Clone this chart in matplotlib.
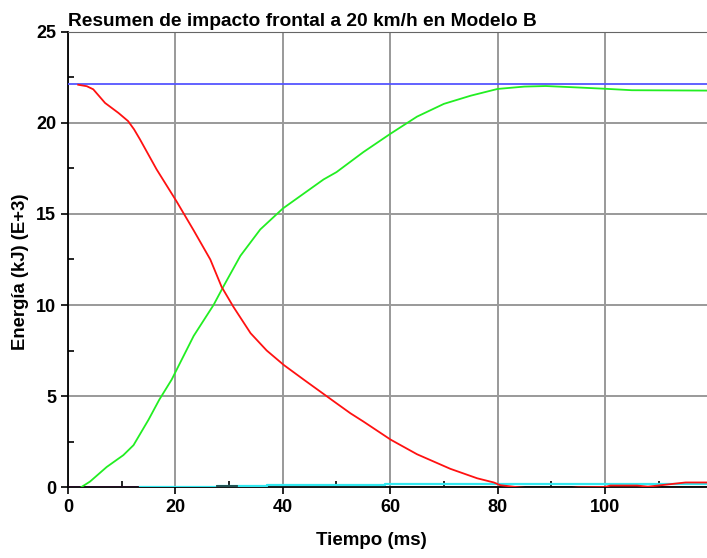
import numpy as np
import matplotlib
matplotlib.use('Agg')
import matplotlib.pyplot as plt
from matplotlib.ticker import MultipleLocator

plt.rcParams['font.family'] = ['Liberation Sans', 'DejaVu Sans']

# energia total
t_total = [0, 119]
e_total = [22.15, 22.15]

# energia cinetica
t_kin = [1.9, 3.5, 4.7, 6.9, 9.4, 11.2, 12.3, 13.4, 16.5, 20.2, 23.4, 26.5, 28.6,
         30.8, 34.0, 37.0, 40.2, 43.9, 50.0, 52.6, 55.0, 60.1, 65.0, 71.2,
         76.2, 79.3, 80.5, 82.0, 84.0, 86.0, 93.0, 95.0, 100.0, 101.0, 106.0, 108.0,
         115.0, 119.0]
e_kin = [22.1, 22.02, 21.85, 21.1, 20.55, 20.1, 19.65, 19.1, 17.45, 15.7, 14.1, 12.5, 11.0,
         9.9, 8.45, 7.5, 6.7, 5.9, 4.6, 4.05, 3.6, 2.6, 1.8, 1.0,
         0.48, 0.25, 0.1, 0.05, -0.02, -0.07, -0.07, -0.02, 0.0, 0.08, 0.08, 0.02,
         0.25, 0.25]

# energia interna
t_int = [2.5, 4.1, 7.2, 10.3, 12.2, 14.0, 15.0, 17.0, 19.3, 23.4, 27.1, 29.0, 32.1,
         35.8, 40.0, 47.6, 50.0, 55.0, 60.0, 65.0, 70.0, 75.0, 80.0, 85.0, 89.0,
         95.0, 100.0, 105.0, 119.0]
e_int = [0.0, 0.3, 1.1, 1.75, 2.3, 3.2, 3.7, 4.8, 5.9, 8.3, 10.0, 11.05, 12.7,
         14.15, 15.3, 16.9, 17.3, 18.4, 19.4, 20.35, 21.05, 21.5, 21.87, 22.0, 22.03,
         21.95, 21.88, 21.8, 21.78]

# energia de hourglass
t_hg = [13.4, 27.8, 27.8, 37.0, 37.0, 59.0, 59.0, 119.0]
e_hg = [0.0, 0.0, 0.07, 0.07, 0.13, 0.13, 0.17, 0.17]

# energia de deslizamiento
t_sl = [0.0, 31.5]
e_sl = [-0.04, -0.04]

t_sl2 = [27.8, 31.5]
e_sl2 = [0.03, 0.03]

fig = plt.figure(figsize=(7.07, 5.58), dpi=100)
ax = fig.add_axes([0.0962, 0.1272, 0.9038, 0.8155])

ax.plot(t_total, e_total, color='#5555ff', lw=1.3, zorder=3)
ax.plot(t_sl, e_sl, color='#cc00cc', lw=1.6, zorder=3)
ax.plot(t_hg, e_hg, color='#33e8f0', lw=1.6, zorder=3)
ax.plot(t_sl2, e_sl2, color='#224444', lw=1.3, zorder=3)
ax.plot(t_int, e_int, color='#22ee22', lw=1.3, zorder=3)
ax.plot(t_kin, e_kin, color='#ff1111', lw=1.3, zorder=3)

ax.set_xlim(0, 119)
ax.set_ylim(0, 25)
ax.xaxis.set_major_locator(MultipleLocator(20))
ax.xaxis.set_minor_locator(MultipleLocator(10))
ax.yaxis.set_major_locator(MultipleLocator(5))
ax.yaxis.set_minor_locator(MultipleLocator(2.5))
ax.grid(True, which='major', color='#999999', lw=1.4)
ax.set_axisbelow(True)

ax.tick_params(which='major', direction='out', length=5, width=1.2,
               labelsize=13)
ax.tick_params(which='minor', direction='in', length=4, width=1.2)
for lab in ax.get_xticklabels() + ax.get_yticklabels():
    lab.set_fontweight('bold')
ax.set_xticks([0, 20, 40, 60, 80, 100])

ax.spines['right'].set_visible(False)
ax.spines['top'].set_color('#666666')
ax.spines['left'].set_linewidth(1.3)
ax.spines['bottom'].set_linewidth(1.3)

ax.set_xlabel('Tiempo (ms)', fontsize=13.5, fontweight='bold')
ax.xaxis.set_label_coords(0.474, -0.099)
ax.set_ylabel('Energía (kJ) (E+3)', fontsize=13.3, fontweight='bold')
ax.yaxis.set_label_coords(-0.061, 0.4725)
ax.set_title('Resumen de impacto frontal a 20 km/h en Modelo B', loc='left',
             fontsize=13.8, fontweight='bold', pad=4)

fig.savefig('out.png', dpi=100)
